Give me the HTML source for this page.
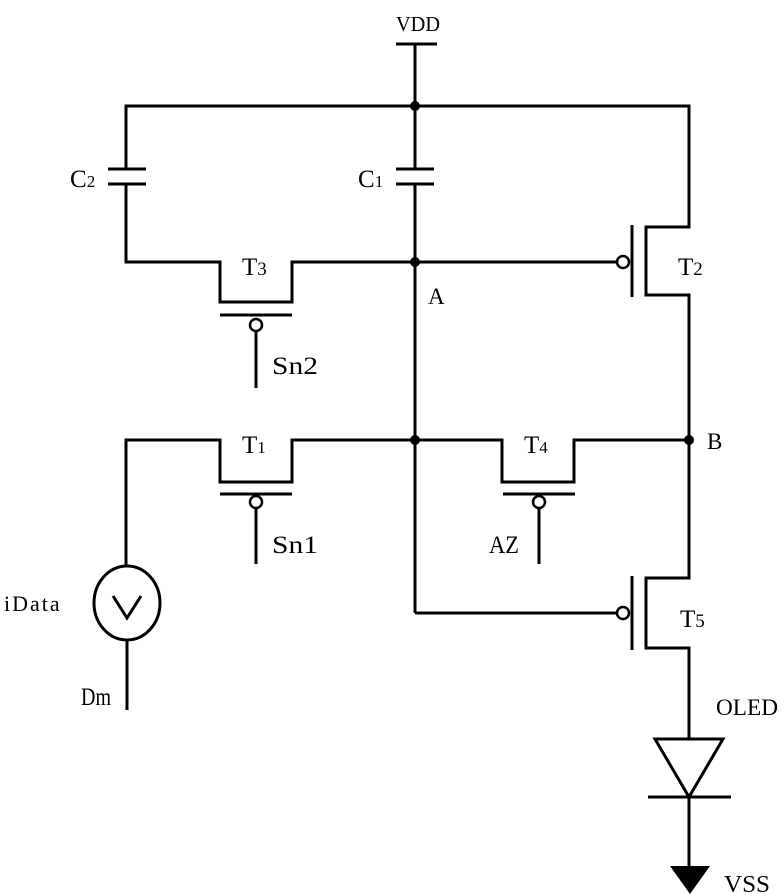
<!DOCTYPE html>
<html><head><meta charset="utf-8"><style>
html,body{margin:0;padding:0;background:#fff;}
svg{display:block;}
text{font-family:"Liberation Serif",serif;fill:#000;}
</style></head><body>
<svg width="784" height="894" viewBox="0 0 784 894" xmlns="http://www.w3.org/2000/svg">
<g stroke="#000" stroke-width="3" fill="none">
<line x1="396" y1="44" x2="437" y2="44"/>
<line x1="415" y1="44" x2="415" y2="169"/>
<line x1="415" y1="184" x2="415" y2="613"/>
<polyline points="126,169 126,106 689,106 689,227 646,227 646,295 689,295 689,578 646,578 646,648 689,648 689,739"/>
<line x1="108" y1="169" x2="146" y2="169"/>
<line x1="108" y1="184" x2="146" y2="184"/>
<line x1="396" y1="169" x2="434" y2="169"/>
<line x1="396" y1="184" x2="434" y2="184"/>
<polyline points="126,184 126,262 220,262 220,302 292,302 292,262 415,262"/>
<line x1="220" y1="315" x2="292" y2="315"/>
<line x1="256" y1="331" x2="256" y2="388"/>
<line x1="415" y1="262" x2="617" y2="262"/>
<line x1="632" y1="225" x2="632" y2="297"/>
<polyline points="126,566 126,440 220,440 220,482 292,482 292,440 502,440 502,482 574,482 574,440 689,440"/>
<line x1="220" y1="494" x2="292" y2="494"/>
<line x1="256" y1="508" x2="256" y2="564"/>
<line x1="503" y1="494" x2="575" y2="494"/>
<line x1="539" y1="508" x2="539" y2="564"/>
<ellipse cx="127" cy="603" rx="33" ry="37"/>
<line x1="127" y1="640" x2="127" y2="710"/>
<polyline points="113,596 127,618 141,596"/>
<polyline points="415,613 617,613"/>
<line x1="632" y1="576" x2="632" y2="650"/>
<polygon points="655,739 723,739 689,797"/>
<line x1="648" y1="797" x2="731" y2="797"/>
<line x1="689" y1="797" x2="689" y2="866"/>
</g>
<g stroke="#000" stroke-width="2.5" fill="#fff">
<circle cx="256" cy="325" r="6"/>
<circle cx="256" cy="502" r="6"/>
<circle cx="539" cy="502" r="6"/>
<circle cx="623" cy="262" r="6"/>
<circle cx="623" cy="613" r="6"/>
</g>
<g fill="#000">
<circle cx="415" cy="106" r="5"/>
<circle cx="415" cy="262" r="5"/>
<circle cx="415" cy="440" r="5"/>
<circle cx="689" cy="440" r="5"/>
<polygon points="670,866 710,866 690,894"/>
</g>
<g font-size="25">
<text x="396" y="31" font-size="21" textLength="44" lengthAdjust="spacingAndGlyphs">VDD</text>
<text x="70" y="187">C<tspan font-size="17">2</tspan></text>
<text x="358" y="187">C<tspan font-size="17">1</tspan></text>
<text x="242" y="275">T<tspan font-size="19">3</tspan></text>
<text x="678" y="275">T<tspan font-size="19">2</tspan></text>
<text x="428" y="304" font-size="23">A</text>
<text x="272" y="374" textLength="46" lengthAdjust="spacingAndGlyphs">Sn2</text>
<text x="242" y="453">T<tspan font-size="17">1</tspan></text>
<text x="524" y="453">T<tspan font-size="17">4</tspan></text>
<text x="707" y="449" font-size="23">B</text>
<text x="272" y="553" textLength="46" lengthAdjust="spacingAndGlyphs">Sn1</text>
<text x="489" y="553" textLength="30" lengthAdjust="spacingAndGlyphs">AZ</text>
<text x="4" y="611" font-size="22" letter-spacing="2">iData</text>
<text x="81" y="705" textLength="30" lengthAdjust="spacingAndGlyphs">Dm</text>
<text x="680" y="627">T<tspan font-size="19">5</tspan></text>
<text x="716" y="715" font-size="23" textLength="62" lengthAdjust="spacingAndGlyphs">OLED</text>
<text x="724" y="892" font-size="24" textLength="46" lengthAdjust="spacingAndGlyphs">VSS</text>
</g>
</svg>
</body></html>
